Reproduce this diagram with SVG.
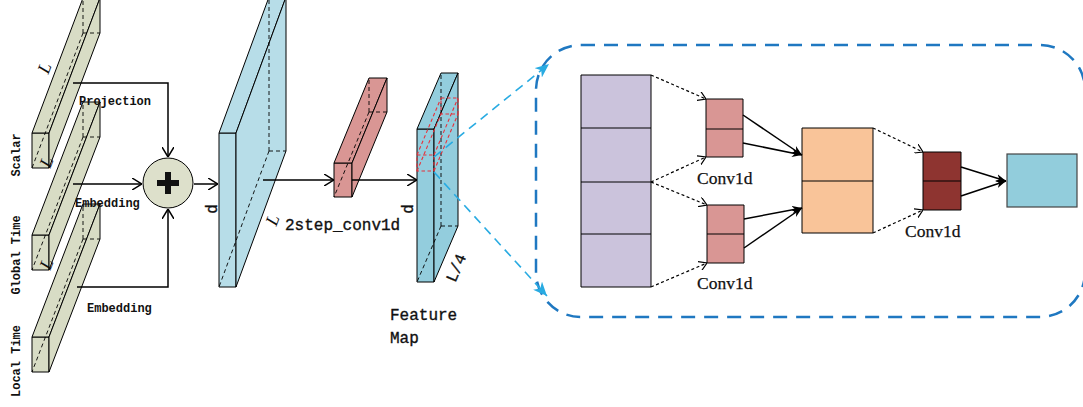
<svg xmlns="http://www.w3.org/2000/svg" width="1083" height="407" viewBox="0 0 1083 407">
<style>
.e{stroke:#000;stroke-width:1;stroke-linejoin:round}
.h{fill:none;stroke:#000;stroke-width:0.9;stroke-dasharray:4 3}
.g{fill:#d8dcc5}
.sb{fill:#b7dde8}
.fm{fill:#93cddd}
.rb{fill:#d99694}
.rd{fill:none;stroke:#e8303a;stroke-width:1.1;stroke-dasharray:3.5 2.5}
.lab{font-family:"Liberation Mono",monospace;font-weight:bold;font-size:12px;fill:#111}
.big{font-family:"Liberation Mono",monospace;font-size:16px;fill:#111;stroke:#111;stroke-width:0.35}
.ll{font-family:"Liberation Serif",serif;font-style:italic;font-size:18px;fill:#111}
.cv{font-family:"Liberation Serif",serif;font-size:17.5px;fill:#111;stroke:#111;stroke-width:0.25}
.ln{fill:none;stroke:#000;stroke-width:1.5}
.dt{fill:none;stroke:#000;stroke-width:1.2;stroke-dasharray:3 2.5}
.bl{fill:none;stroke:#29abe2;stroke-width:1.6;stroke-dasharray:9 6}
</style>
<defs>
<marker id="open" viewBox="0 0 10 12" refX="10" refY="6" markerWidth="10" markerHeight="12" markerUnits="userSpaceOnUse" orient="auto"><path d="M0,0 L10,6 L0,12" fill="none" stroke="#000" stroke-width="1.5"/></marker>
<marker id="opens" viewBox="0 0 8 10" refX="8" refY="5" markerWidth="8" markerHeight="10" markerUnits="userSpaceOnUse" orient="auto"><path d="M0,0 L8,5 L0,10" fill="none" stroke="#000" stroke-width="1.2"/></marker>
<marker id="fill" viewBox="0 0 10 8" refX="10" refY="4" markerWidth="10" markerHeight="8" markerUnits="userSpaceOnUse" orient="auto"><path d="M0,0 L10,4 L0,8 L3,4 z" fill="#000"/></marker>
<marker id="blue" viewBox="0 0 14 12" refX="14" refY="6" markerWidth="14" markerHeight="12" markerUnits="userSpaceOnUse" orient="auto"><path d="M0,0 L14,6 L0,12 L4,6 z" fill="#29abe2"/></marker>
</defs>

<g id="scalar-bar">
<rect class="e g" x="32" y="133" width="17" height="35"/>
<polygon class="e g" points="32,133 83,-2 100,-2 49,133"/>
<polygon class="e g" points="49,133 100,-2 100,33 49,168"/>
<path class="h" d="M83,33 V-2 M83,33 H100 M83,33 L32,168"/>
<text class="ll" transform="translate(50,70) rotate(-69)" text-anchor="middle">L</text>
<text class="lab" transform="translate(20,155) rotate(-90)" text-anchor="middle">Scalar</text>
</g>

<g id="global-time-bar">
<rect class="e g" x="32" y="235" width="17" height="35"/>
<polygon class="e g" points="32,235 83,102 100,102 49,235"/>
<polygon class="e g" points="49,235 100,102 100,137 49,270"/>
<path class="h" d="M83,137 V102 M83,137 H100 M83,137 L32,270"/>
<text class="ll" transform="translate(52,164) rotate(-69)" text-anchor="middle">L</text>
<text class="lab" transform="translate(20,255) rotate(-90)" text-anchor="middle">Global Time</text>
</g>

<g id="local-time-bar">
<rect class="e g" x="32" y="337" width="17" height="35"/>
<polygon class="e g" points="32,337 83,204 100,204 49,337"/>
<polygon class="e g" points="49,337 100,204 100,239 49,372"/>
<path class="h" d="M83,239 V204 M83,239 H100 M83,239 L32,372"/>
<text class="ll" transform="translate(52,266) rotate(-69)" text-anchor="middle">L</text>
<text class="lab" transform="translate(20,361) rotate(-90)" text-anchor="middle">Local Time</text>
</g>

<g id="plus">
<circle cx="168" cy="183" r="25" fill="#dde0cb" stroke="#000" stroke-width="1"/>
<rect x="157" y="180" width="22" height="6" fill="#111"/>
<rect x="165" y="172" width="6" height="22" fill="#111"/>
</g>

<g id="embedding-slab">
<rect class="e sb" x="219" y="133" width="17" height="154"/>
<polygon class="e sb" points="219,133 269,-3 286,-3 236,133"/>
<polygon class="e sb" points="236,133 286,-3 286,151 236,287"/>
<path class="h" d="M269,151 V-3 M269,151 H286 M269,151 L219,287"/>
<text class="big" transform="translate(217,209) rotate(-90)" text-anchor="middle">d</text>
<text class="ll" transform="translate(278,222) rotate(-69)" text-anchor="middle">L</text>
</g>

<g id="conv-bar">
<rect class="e rb" x="334" y="163" width="18" height="34"/>
<polygon class="e rb" points="334,163 369,78 387,78 352,163"/>
<polygon class="e rb" points="352,163 387,78 387,112 352,197"/>
<path class="h" d="M369,112 V78 M369,112 H387 M369,112 L334,197"/>
</g>

<g id="feature-map">
<rect class="e fm" x="417" y="129" width="17" height="153"/>
<polygon class="e fm" points="417,129 441,73 458,73 434,129"/>
<polygon class="e fm" points="434,129 458,73 458,226 434,282"/>
<path class="h" d="M441,226 V73 M441,226 H458 M441,226 L417,282"/>
<rect class="rd" x="417" y="155" width="17" height="16"/>
<rect class="rd" x="441" y="98" width="17" height="16"/>
<path class="rd" d="M417,155 L441,98 M434,155 L458,98 M434,171 L458,114 M417,171 L441,114"/>
<text class="big" transform="translate(413,209) rotate(-90)" text-anchor="middle">d</text>
<text class="big" transform="translate(461,270) rotate(-67)" text-anchor="middle">L/4</text>
<text class="big" x="390" y="320">Feature</text>
<text class="big" x="390" y="343">Map</text>
</g>

<g id="detail-frame">
<rect x="536" y="45" width="549" height="272" rx="45" ry="45" fill="none" stroke="#1f78c1" stroke-width="2.5" stroke-dasharray="14 9"/>
</g>

<g id="input-seq">
<rect class="e" x="581" y="75" width="70" height="212" fill="#cbc3dc"/>
<path class="e" d="M581,128 H651 M581,182 H651 M581,234 H651"/>
</g>

<g id="conv-a">
<rect class="e rb" x="706" y="99" width="37" height="58"/>
<path class="e" d="M706,129 H743"/>
<text class="cv" x="697" y="184">Conv1d</text>
</g>

<g id="conv-b">
<rect class="e rb" x="707" y="205" width="37" height="58"/>
<path class="e" d="M707,234 H744"/>
<text class="cv" x="697" y="289">Conv1d</text>
</g>

<g id="mid-seq">
<rect class="e" x="802" y="128" width="71" height="105" fill="#f9c499"/>
<path class="e" d="M802,181 H873"/>
</g>

<g id="conv-c">
<rect class="e" x="923" y="152" width="38" height="58" fill="#8e3430"/>
<path class="e" d="M923,181 H961"/>
<text class="cv" x="905" y="237">Conv1d</text>
</g>

<g id="output">
<rect x="1007" y="154" width="70" height="53" fill="#92cddc" stroke="#444" stroke-width="1.2"/>
</g>

<g id="connectors">
<path class="ln" d="M73,83 H168 V157" marker-end="url(#open)"/>
<path class="ln" d="M73,184 H142" marker-end="url(#open)"/>
<path class="ln" d="M77,287 H168 V209" marker-end="url(#open)"/>
<path class="ln" d="M194,184 H218" marker-end="url(#open)"/>
<path class="ln" d="M263,180 H334" marker-end="url(#open)"/>
<path class="ln" d="M352,180 H417" marker-end="url(#open)"/>
<path class="bl" d="M434,157 L549,64" marker-end="url(#blue)"/>
<path class="bl" d="M434,172 L547,296" marker-end="url(#blue)"/>
<path class="dt" d="M651,75 L706,99" marker-end="url(#opens)"/>
<path class="dt" d="M651,182 L706,157" marker-end="url(#opens)"/>
<path class="dt" d="M651,182 L707,205" marker-end="url(#opens)"/>
<path class="dt" d="M651,287 L707,263" marker-end="url(#opens)"/>
<path class="dt" d="M873,128 L923,152" marker-end="url(#opens)"/>
<path class="dt" d="M873,233 L923,210" marker-end="url(#opens)"/>
<path class="ln" d="M743,115 L802,155" marker-end="url(#fill)"/>
<path class="ln" d="M743,143 L802,155" marker-end="url(#fill)"/>
<path class="ln" d="M744,219 L802,208" marker-end="url(#fill)"/>
<path class="ln" d="M744,248 L802,208" marker-end="url(#fill)"/>
<path class="ln" d="M961,167 L1006,181" marker-end="url(#fill)"/>
<path class="ln" d="M961,196 L1006,181" marker-end="url(#fill)"/>
</g>

<g id="labels">
<text class="lab" x="79" y="105">Projection</text>
<text class="lab" x="75" y="207">Embedding</text>
<text class="lab" x="87" y="312">Embedding</text>
<text class="big" x="285" y="230">2step_conv1d</text>
</g>
</svg>
